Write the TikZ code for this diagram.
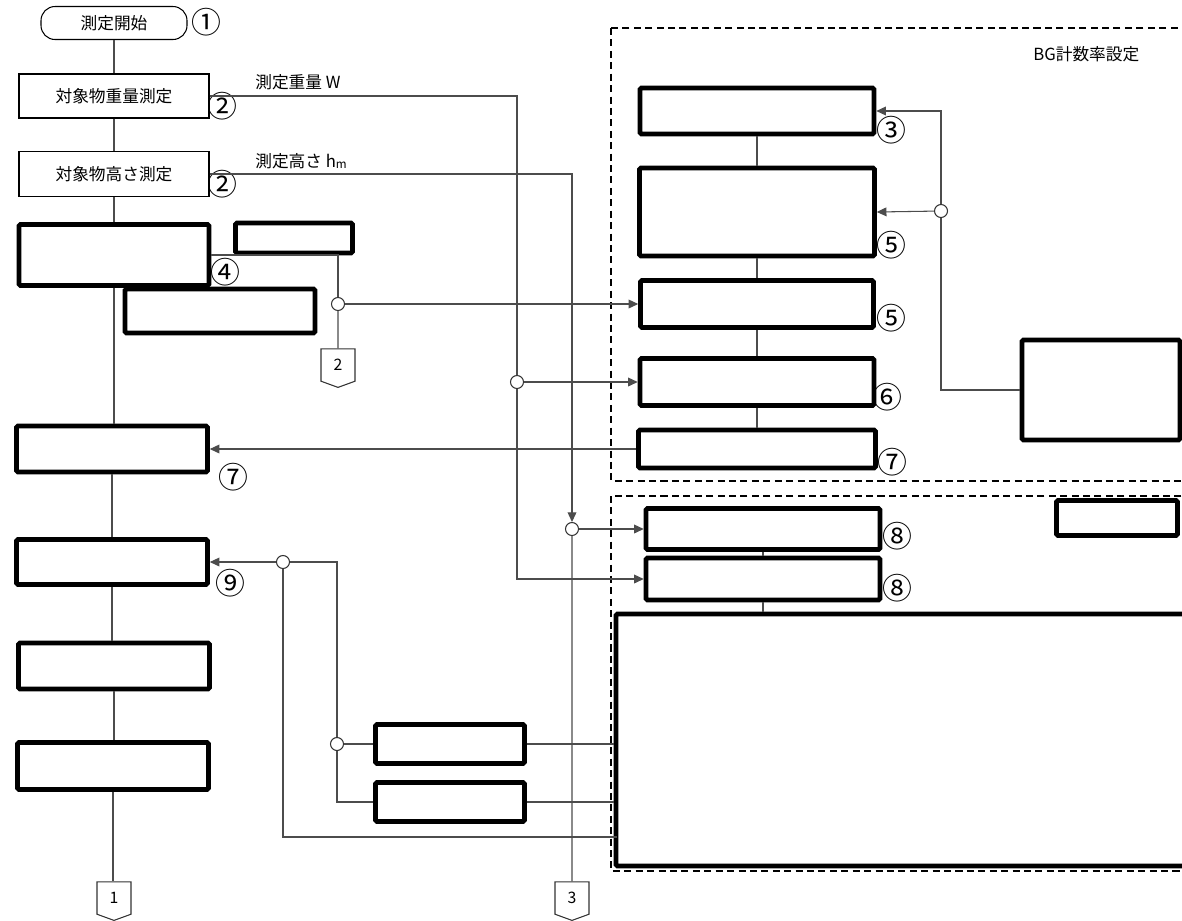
\documentclass[tikz,border=0pt]{standalone}
\usepackage{fontspec}
\setmainfont{Noto Sans CJK JP}
\usetikzlibrary{arrows.meta,shapes.symbols}
\newcommand{\pxunit}{0.02cm}
\tikzset{
  sz/.style 2 args={minimum width=#1*\pxunit, minimum height=#2*\pxunit},
  termbox/.style={draw, line width=0.6pt, rounded corners=8pt, inner sep=0pt, font=\fontsize{9.5}{11}\selectfont},
  textbox/.style={draw, line width=0.6pt, inner sep=0pt, font=\fontsize{9.5}{11}\selectfont},
  thickbox/.style={draw, line width=2.6pt, fill=white, rounded corners=0.8pt, inner sep=0pt},
  flow/.style={draw=black!70, line width=0.6pt},
  arr/.style={flow, -{Triangle[length=5.5pt,width=5pt]}},
  junc/.style={circle, draw=black!80, fill=white, line width=0.6pt, minimum size=13*\pxunit, inner sep=0pt},
  offpage/.style={shape=signal, signal to=south, signal from=nothing, signal pointer angle=140,
    draw=black!80, line width=0.6pt, minimum width=34*\pxunit, minimum height=34*\pxunit,
    inner sep=0pt, font=\fontsize{9}{9}\selectfont},
  stepno/.style={inner sep=0pt, font=\fontsize{17}{17}\selectfont},
  lbl/.style={inner sep=0pt, anchor=west, font=\fontsize{9.5}{11}\selectfont},
  frame/.style={dash pattern=on 4pt off 2.5pt, line width=0.8pt},
}
\begin{document}
\begin{tikzpicture}[x=0.02cm,y=-0.02cm]
\clip (0,0) rectangle (1182,920);
\fill[white] (0,0) rectangle (1182,920);

% dashed frames
\draw[frame] (611,28) rectangle (1195,481);
\draw[frame] (611,496) rectangle (1195,871);
\node[lbl] (bglbl) at (1033,54) {BG計数率設定};

% main column
\node[termbox, sz={146}{33}] (start) at (114,23) {測定開始};
\node[textbox, sz={190}{44}] (wgt) at (114,96) {対象物重量測定};
\node[textbox, sz={190}{45}] (hgt) at (114,174) {対象物高さ測定};
\node[thickbox, sz={190}{61}] (boxA) at (114,255) {};
\node[thickbox, sz={117}{30}] (boxB) at (294,238) {};
\node[thickbox, sz={190}{44}] (boxC) at (220,311) {};
\node[thickbox, sz={191}{46}] (b7l) at (112,449) {};
\node[thickbox, sz={191}{45}] (b9) at (112,562) {};
\node[thickbox, sz={191}{46}] (e1) at (114,666) {};
\node[thickbox, sz={191}{47}] (e2) at (113,766) {};
\node[offpage] (c1) at (114,898) {1};
\node[offpage] (c2) at (338,365) {2};
\node[offpage] (c3) at (572,898) {3};
\node[thickbox, sz={149}{39}] (d1) at (450,744) {};
\node[thickbox, sz={149}{39}] (d2) at (450,802) {};

% right column
\node[thickbox, sz={234}{46}] (b3) at (757,111) {};
\node[thickbox, sz={235}{88}] (b5a) at (757,212) {};
\node[thickbox, sz={233}{47}] (b5b) at (757,304) {};
\node[thickbox, sz={234}{47}] (b6) at (757,382) {};
\node[thickbox, sz={237}{38}] (b7r) at (757,449) {};
\node[thickbox, sz={158}{100}] (rbox) at (1101,390) {};
\node[thickbox, sz={121}{35}] (sbox) at (1117,518) {};
\node[thickbox, sz={234}{41}] (b8a) at (763,529) {};
\node[thickbox, sz={234}{42}] (b8b) at (763,579) {};
\node[thickbox, sz={578}{252}] (big) at (905,740) {};

% junctions
\node[junc] (j1) at (517,382) {};
\node[junc] (j2) at (572,529) {};
\node[junc] (j3) at (338,304) {};
\node[junc] (j4) at (941,211) {};
\node[junc] (j5) at (283,562) {};
\node[junc] (j6) at (337,744) {};
\coordinate (bigtap) at (617,837);

% labels
\node[lbl] (wlbl) at (255,82) {測定重量 W};
\node[lbl] (hlbl) at (255,161) {測定高さ h\textsubscript{m}};
\node[stepno] (n1) at (206,22) {①};
\node[stepno] (n2a) at (222,106) {②};
\node[stepno] (n2b) at (222,184) {②};
\node[stepno] (n4) at (225,272) {④};
\node[stepno] (n3) at (891,130) {③};
\node[stepno] (n5a) at (891,245) {⑤};
\node[stepno] (n5b) at (891,318) {⑤};
\node[stepno] (n6) at (887,397) {⑥};
\node[stepno] (n7a) at (892,462) {⑦};
\node[stepno] (n7b) at (233,477) {⑦};
\node[stepno] (n8a) at (897,536) {⑧};
\node[stepno] (n8b) at (897,588) {⑧};
\node[stepno] (n9) at (230,583) {⑨};

% main flow
\draw[flow] (start) -- (wgt);
\draw[flow] (wgt) -- (hgt);
\draw[flow] (hgt) -- (boxA);
\draw[flow] (boxA.south) -- (boxA.south |- b7l.north);
\draw[flow] (b7l.south) -- (b7l.south |- b9.north);
\draw[flow] (b9.south) -- (b9.south |- e1.north);
\draw[flow] (e1.south) -- (e1.south |- e2.north);
\draw[flow] (e2.south) -- (e2.south |- c1.north);
\draw[flow] (b3) -- (b5a);
\draw[flow] (b5a) -- (b5b);
\draw[flow] (b5b) -- (b6);
\draw[flow] (b6) -- (b7r);
\draw[flow] (b8a) -- (b8b);
\draw[flow] (b8b.south) -- (b8b.south |- big.north);

% measured values
\draw[flow] (wgt.east) -| (j1);
\draw[arr] (j1) |- (b8b.west);
\draw[arr] (j1) -- (b6.west);
\draw[arr] (hgt.east) -| (j2);
\draw[arr] (j2) -- (b8a.west);
\draw[flow] (j2) -- (c3);
\draw[flow] (boxA.east) -| (j3);
\draw[flow] (j3) -- (c2);
\draw[arr] (j3) -- (b5b.west);
\draw[flow] (rbox.west) -| (j4);
\draw[arr] (j4) |- (b3.east);
\draw[arr] (j4) -- (b5a.east);
\draw[arr] (b7r.west) -- (b7l.east);
\draw[arr] (j5) -- (b9.east);
\draw[flow] (j5) -| (j6);
\draw[flow] (j6) -- (d1.west);
\draw[flow] (j6) |- (d2.west);
\draw[flow] (j5) |- (bigtap);
\draw[flow] (d1.east) -- (d1.east -| big.west);
\draw[flow] (d2.east) -- (d2.east -| big.west);
\end{tikzpicture}
\end{document}
